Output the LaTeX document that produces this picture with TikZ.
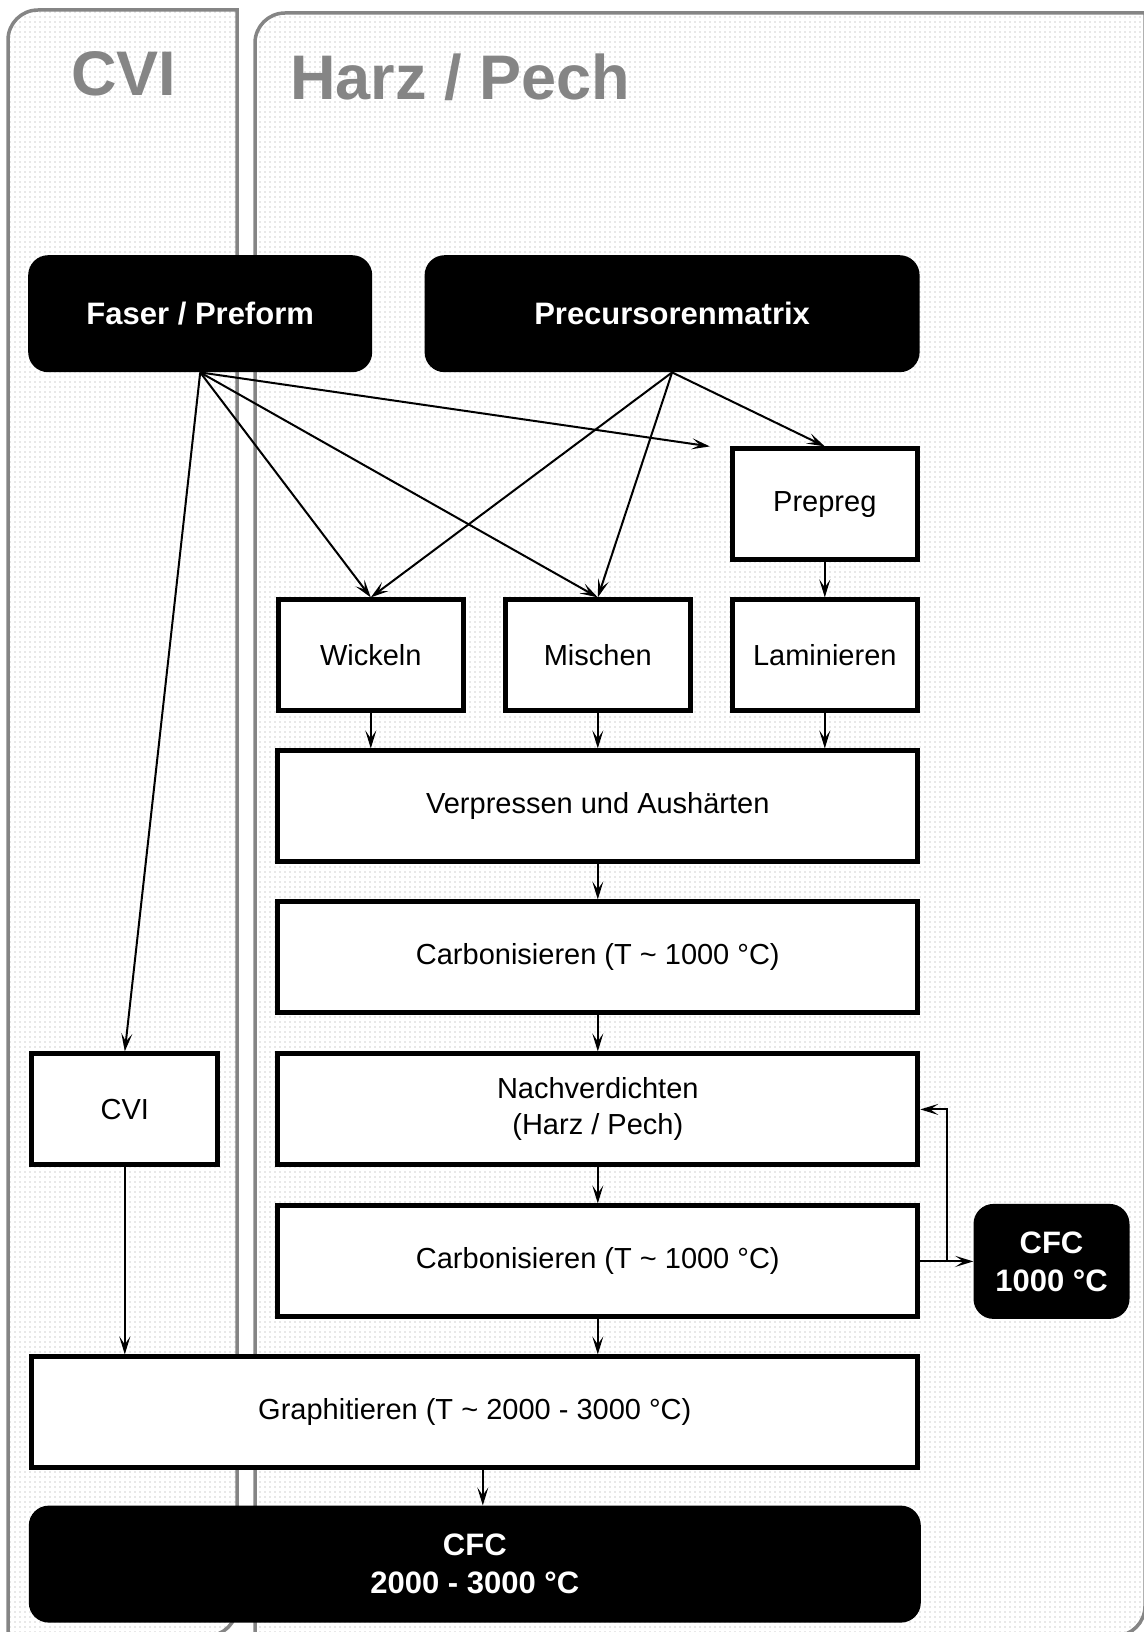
\documentclass[tikz,border=0pt]{standalone}
\usepackage{fontspec}
\setmainfont{Liberation Sans}
\usepackage{tikz}
\usetikzlibrary{arrows.meta, positioning, calc, patterns.meta}
\definecolor{panelgray}{HTML}{858585}
\definecolor{dotgray}{HTML}{9A9A9A}

\begin{document}
\begin{tikzpicture}[
  x=1pt, y=-1pt,
  every node/.style={inner sep=0pt},
  panel/.style={draw=panelgray, line width=3.5pt, pattern={Dots[distance=5pt, radius=0.55pt]}, pattern color=dotgray},
  ttl/.style={text=panelgray, font=\fontsize{63}{63}\selectfont\bfseries},
  box/.style={draw, line width=5pt, fill=white, minimum width=185pt, minimum height=111pt, align=center, font=\fontsize{29}{36}\selectfont},
  dark/.style={fill=black, text=white, rounded corners=20pt, minimum height=117pt, align=center, font=\fontsize{31}{38}\selectfont\bfseries},
  arr/.style={-{Stealth[length=18pt, width=11pt, inset=8pt]}, line width=2pt}
]
  \useasboundingbox (0,0) rectangle (1143,1632);
  \path[panel] (8,1636) [rounded corners=30pt] -- (8,10) [sharp corners] -- (237,10) [rounded corners=30pt] -- (237,1636) [sharp corners] -- cycle;
  \path[panel] (255,1636) [rounded corners=30pt] -- (255,13) [sharp corners] -- (1145,13) [rounded corners=30pt] -- (1145,1636) [sharp corners] -- cycle;
  \node[ttl, anchor=base] (cvititle) at (124,96) {CVI};
  \node[ttl, anchor=base west] (harztitle) at (290,100) {Harz / Pech};

  \node[dark, minimum width=344pt, anchor=north west] (faser) at (28,255) {Faser / Preform};
  \node[dark, minimum width=495pt, right=52pt of faser] (precursor) {Precursorenmatrix};
  \node[box, below left=74pt and 0pt of precursor.south east] (prepreg) {Prepreg};
  \node[box, below=35pt of prepreg] (lamin) {Laminieren};
  \node[box, left=37pt of lamin] (mischen) {Mischen};
  \node[box, left=37pt of mischen] (wickeln) {Wickeln};
  \node[box, minimum width=640pt, below=35pt of mischen] (verpressen) {Verpressen und Aushärten};
  \node[box, minimum width=640pt, below=35pt of verpressen] (carbA) {Carbonisieren (T \textasciitilde{} 1000 °C)};
  \node[box, minimum width=640pt, below=36pt of carbA] (nachverd) {Nachverdichten\\(Harz / Pech)};
  \node[box, minimum width=640pt, below=36pt of nachverd] (carbB) {Carbonisieren (T \textasciitilde{} 1000 °C)};
  \node[box, minimum width=886pt, below left=35pt and 0pt of carbB.south east] (graphit) {Graphitieren (T \textasciitilde{} 2000 - 3000 °C)};
  \node[dark, minimum width=892pt, below=35pt of graphit] (cfcend) {CFC\\2000 - 3000 °C};
  \node[box, minimum width=186pt, left=55pt of nachverd] (cvi) {CVI};
  \node[dark, minimum width=156pt, minimum height=115pt, right=53pt of carbB] (cfcmid) {CFC\\1000 °C};

  \coordinate[left=20pt of prepreg.north west] (pptip);
  \coordinate (split) at ($(carbB.east)!0.5!(cfcmid.west)$);

  \foreach \t in {cvi, wickeln, mischen} \draw[arr] (faser.south) -- (\t.north);
  \draw[arr] (faser.south) -- (pptip);
  \foreach \t in {wickeln, mischen, prepreg} \draw[arr] (precursor.south) -- (\t.north);
  \foreach \a in {wickeln, mischen, lamin} \draw[arr] (\a.south) -- (\a.south |- verpressen.north);
  \foreach \a/\b in {prepreg/lamin, verpressen/carbA, carbA/nachverd, nachverd/carbB, carbB/cfcmid} \draw[arr] (\a) -- (\b);
  \draw[arr] ($(graphit.south)+(8pt,0pt)$) -- ($(cfcend.north)+(8pt,0pt)$);
  \draw[arr] (carbB.south) -- (carbB.south |- graphit.north);
  \draw[arr] (cvi.south) -- (cvi.south |- graphit.north);
  \draw[arr] (split) |- (nachverd);
\end{tikzpicture}
\end{document}
